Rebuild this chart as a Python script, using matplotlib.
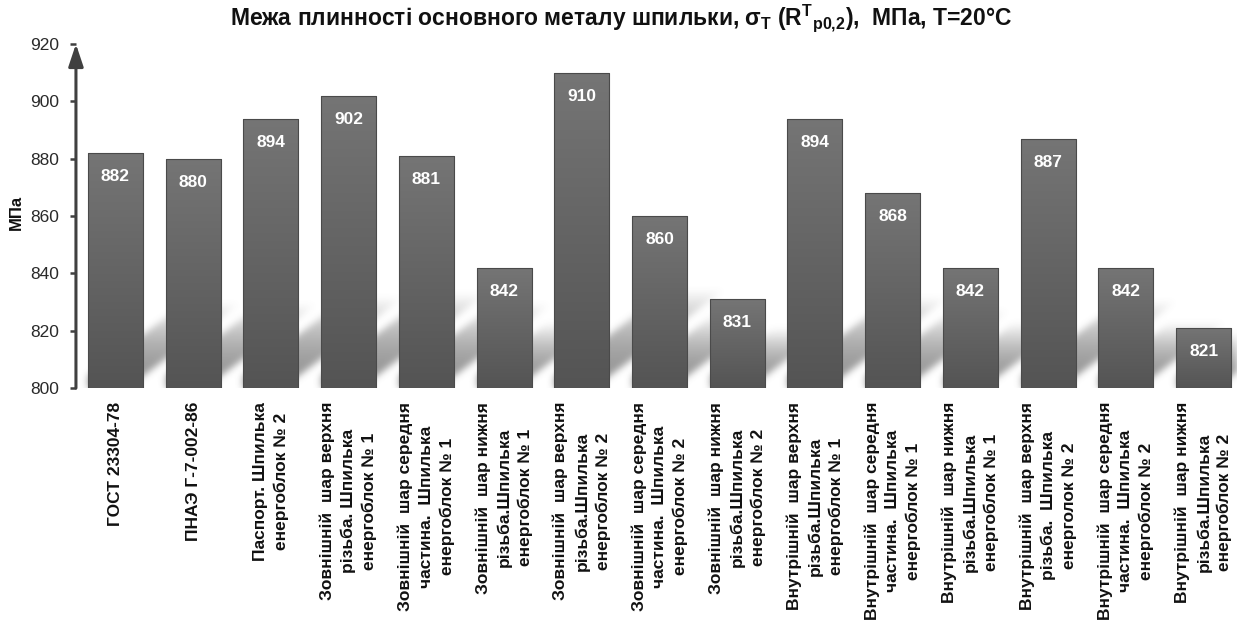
import numpy as np
import matplotlib
matplotlib.use("Agg")
import matplotlib.pyplot as plt
from matplotlib import font_manager
from matplotlib.path import Path
from matplotlib.patches import FancyArrowPatch
from matplotlib.colors import LinearSegmentedColormap

# ---- data -------------------------------------------------------------
categories = [
    "ГОСТ 23304-78",
    "ПНАЭ Г-7-002-86",
    "Паспорт. Шпилька\nенергоблок № 2",
    "Зовнішній  шар верхня\nрізьба. Шпилька\nенергоблок № 1",
    "Зовнішній  шар середня\nчастина.  Шпилька\nенергоблок № 1",
    "Зовнішній  шар нижня\nрізьба.Шпилька\nенергоблок № 1",
    "Зовнішній  шар верхня\nрізьба.Шпилька\nенергоблок № 2",
    "Зовнішній  шар середня\nчастина.  Шпилька\nенергоблок № 2",
    "Зовнішній  шар нижня\nрізьба.Шпилька\nенергоблок № 2",
    "Внутрішній  шар верхня\nрізьба.Шпилька\nенергоблок № 1",
    "Внутрішній  шар середня\nчастина.  Шпилька\nенергоблок № 1",
    "Внутрішній  шар нижня\nрізьба.Шпилька\nенергоблок № 1",
    "Внутрішній  шар верхня\nрізьба.  Шпилька\nенерголок № 2",
    "Внутрішній  шар середня\nчастина.  Шпилька\nенергоблок № 2",
    "Внутрішній  шар нижня\nрізьба.Шпилька\nенергоблок № 2",
]
values = [882, 880, 894, 902, 881, 842, 910, 860, 831, 894, 868, 842, 887, 842, 821]
y_ticks = [800, 820, 840, 860, 880, 900, 920]
y_min, y_max = 800, 920

title = ("Межа плинності основного металу шпильки, "
         r"$\sigma_{\mathrm{T}}$ ($\mathrm{R}^{\mathrm{T}}{}_{\mathrm{p0{,}2}}$),  МПа, Т=20°С")
y_label = "МПа"


# ---- fonts ------------------------------------------------------------
def has_font(name):
    try:
        font_manager.findfont(font_manager.FontProperties(family=name),
                              fallback_to_default=False)
        return True
    except ValueError:
        return False


BASE = "Liberation Sans" if has_font("Liberation Sans") else "DejaVu Sans"

plt.rcParams["font.family"] = [BASE, "DejaVu Sans"]
plt.rcParams["mathtext.fontset"] = "custom"
plt.rcParams["mathtext.rm"] = f"{BASE}:bold"
plt.rcParams["mathtext.it"] = f"{BASE}:bold"
plt.rcParams["mathtext.bf"] = f"{BASE}:bold"
plt.rcParams["mathtext.sf"] = f"{BASE}:bold"

# ---- figure -----------------------------------------------------------
fig = plt.figure(figsize=(12.37, 6.24), dpi=100)
ax = fig.add_axes([0.0614, 0.3782, 0.9386, 0.5513])

x = np.arange(len(values))
bar_w = 0.708
xlim = (-0.508, 14.43)

bars = ax.bar(x, np.array(values) - y_min, bottom=y_min, width=bar_w,
              color="none", edgecolor="#4a4a4a", linewidth=0.8, zorder=3)

# vertical gradient fill inside every bar
grad_cmap = LinearSegmentedColormap.from_list("bar", ["#545454", "#757575"])
grad = np.linspace(0, 1, 256).reshape(-1, 1)
for rect in bars:
    x0, w, h = rect.get_x(), rect.get_width(), rect.get_height()
    im = ax.imshow(grad, extent=(x0, x0 + w, y_min, y_min + h), origin="lower",
                   cmap=grad_cmap, aspect="auto", zorder=2.5,
                   interpolation="bilinear")
    im.set_clip_path(rect)

ax.set_xlim(*xlim)
ax.set_ylim(y_min, y_max)

# ---- soft floor shadows cast by the bars ----------------------------------
bbox = ax.bbox
W, H = int(round(bbox.width)), int(round(bbox.height))
px = bbox.x0 + np.arange(W) + 0.5
py = bbox.y0 + np.arange(H) + 0.5
PX, PY = np.meshgrid(px, py)
pts = np.column_stack([PX.ravel(), PY.ravel()])
shade = np.zeros(H * W)
slope = 0.75      # rise per pixel of run
shift = 16.0      # footprint pushed left, so the band lifts off the floor line
for rect in bars:
    xl, yb = ax.transData.transform((rect.get_x(), y_min))
    xr, yt = ax.transData.transform((rect.get_x() + rect.get_width(),
                                     y_min + rect.get_height()))
    hpx = yt - yb
    dy = 45 + 0.17 * hpx
    dx = dy / slope
    a, b = xl - shift, xr - shift
    poly = Path([(a, yb), (b, yb), (b + dx, yb + dy), (a + dx, yb + dy),
                 (a, yb)])
    inside = poly.contains_points(pts) & (pts[:, 0] >= xl)
    t = np.clip((pts[:, 1] - yb) / dy, 0, 1)
    val = np.where(inside, 0.72 * (1 - t ** 2), 0.0)
    shade = np.maximum(shade, val)
shade = shade.reshape(H, W)

# separable gaussian blur
sigma = 3.5
r = int(3 * sigma)
k = np.exp(-0.5 * (np.arange(-r, r + 1) / sigma) ** 2)
k /= k.sum()
shade = np.apply_along_axis(lambda v: np.convolve(v, k, mode="same"), 1, shade)
shade = np.apply_along_axis(lambda v: np.convolve(v, k, mode="same"), 0, shade)

rgba = np.zeros((H, W, 4))
rgba[..., :3] = 0.42
rgba[..., 3] = shade
ax.imshow(rgba, extent=(*xlim, y_min, y_max), origin="lower", aspect="auto",
          zorder=1, interpolation="bilinear")
ax.set_xlim(*xlim)
ax.set_ylim(y_min, y_max)

# ---- value labels -----------------------------------------------------
for xi, v in zip(x, values):
    ax.annotate(f"{v}", (xi, v), xytext=(0, -17), textcoords="offset points",
                ha="center", va="center", color="white", fontsize=12.5,
                fontweight="bold", zorder=5)

# ---- axes styling -----------------------------------------------------
for s in ax.spines.values():
    s.set_visible(False)

arrow = FancyArrowPatch((0, 0), (0, 1), transform=ax.transAxes,
                        arrowstyle="-|>,head_length=1.35,head_width=0.45",
                        mutation_scale=10, lw=2.2, color="#404040",
                        shrinkA=0, shrinkB=0, clip_on=False, zorder=6)
ax.add_patch(arrow)

ax.set_yticks(y_ticks)
ax.tick_params(axis="y", direction="out", length=4, width=1.8, color="#404040",
               labelsize=12.5, labelcolor="#2a2a2a", pad=8)
ax.set_xticks(x)
ax.set_xticklabels(categories, rotation=90, fontsize=12.5, fontweight="bold",
                   multialignment="center", linespacing=1.45, color="#111111")
ax.tick_params(axis="x", length=0, pad=10)

fig.text(0.502, 1 - 18 / 624, title, ha="center", va="center", fontsize=16.5,
         fontweight="bold", color="#111111")
fig.text(16 / 1237, 1 - 212 / 624, y_label, rotation=90, ha="center",
         va="center", fontsize=12, fontweight="bold", color="#111111")

fig.savefig("out.png", dpi=100)
